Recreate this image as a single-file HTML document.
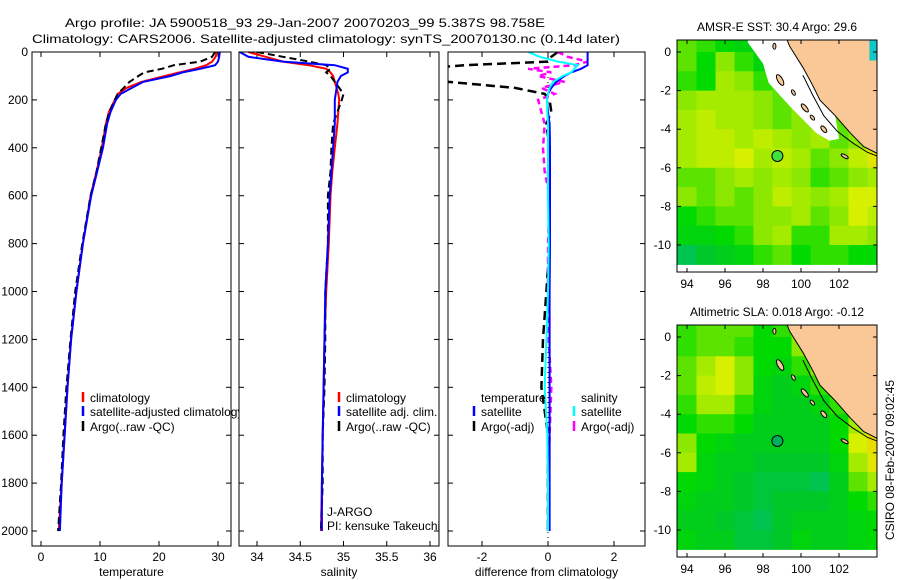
<!DOCTYPE html>
<html><head><meta charset="utf-8"><style>
html,body{margin:0;padding:0;background:#fff;}
svg{display:block;font-family:"Liberation Sans",sans-serif;}
text{font-size:12px;fill:#000;}
</style></head><body>
<svg id="fig" width="900" height="580" viewBox="0 0 900 580">
<text x="65" y="27" font-size="14" textLength="480" lengthAdjust="spacingAndGlyphs">Argo profile: JA 5900518_93 29-Jan-2007 20070203_99 5.387S 98.758E</text>
<text x="32" y="43" font-size="14" textLength="588" lengthAdjust="spacingAndGlyphs">Climatology: CARS2006. Satellite-adjusted climatology: synTS_20070130.nc (0.14d later)</text>
<g id="panels"></g>
<text transform="translate(894,460) rotate(-90)" text-anchor="middle">CSIRO 08-Feb-2007 09:02:45</text>
</svg>
<script>
const depths=[0,20,40,55,70,85,100,125,150,175,200,250,300,400,500,600,800,1000,1200,1400,1600,1800,2000];
const tempClim=[29.8,29.6,29,28,26,23.5,21,17,14.5,13,12.5,11.5,11,10.3,9.4,8.4,7.1,6,5.1,4.5,4,3.5,3.0];
const tempSat=[30.3,30.2,30,29.5,27,24,22,17.3,15.4,13.5,12.7,11.8,11.2,10.5,9.5,8.5,7.1,6,5.1,4.5,4,3.5,3.2];
const tempArgo=[29.5,29,27,22.5,20.5,17.5,16.5,15,14,13,12.5,11.6,11,10.2,9.4,8.4,7.0,5.8,5,4.3,3.8,3.4,2.9];
const salClim=[33.9,34.1,34.3,34.6,34.8,34.85,34.88,34.9,34.92,34.94,34.95,34.94,34.93,34.9,34.87,34.85,34.83,34.8,34.78,34.77,34.76,34.75,34.74];
const salSat=[33.8,33.9,34.3,34.9,35.05,35.05,34.97,34.93,34.92,34.91,34.9,34.9,34.9,34.88,34.86,34.84,34.82,34.79,34.78,34.77,34.76,34.75,34.75];
const salArgo=[34.0,34.3,34.6,34.8,34.85,34.8,34.85,34.9,34.95,35.0,34.98,34.93,34.88,34.86,34.85,34.82,34.82,34.79,34.79,34.78,34.76,34.76,34.74];
const diffTempSat=[1.2,1.2,1.2,1.2,1.0,0.7,0.5,0.25,0.1,0.0,-0.03,0.0,0.05,0.06,0.06,0.06,0.06,0.05,0.05,0.05,0.05,0.05,0.05];
const diffTempArgo=[0.3,0.1,0,-2.5,-4,-4,-4,-3,-1,-0.1,0.05,0.1,-0.05,0.05,0.0,0.05,0.05,-0.05,-0.15,-0.2,0.0,0,0];
const diffSalSat=[-0.6,-0.25,0.3,0.9,0.8,0.7,0.45,0.15,0.05,0,-0.03,-0.02,0,0,0,0,0.02,0,-0.05,-0.1,-0.02,0,0];
const diffSalArgo=[0.3,0.6,1.2,0.8,-0.6,0.1,-0.3,0.5,-0.2,0.2,-0.3,-0.2,-0.1,-0.15,-0.1,0.05,0,0,0.02,0.1,0.05,0.02,0];
const depthTicks=[0,200,400,600,800,1000,1200,1400,1600,1800,2000];
const tempTicks=[0,10,20,30];
const salTicks=["34","34.5","35","35.5","36"];
const diffTicks=[-2,0,2];
const lonTicks=[94,96,98,100,102];
const latTicks=[0,-2,-4,-6,-8,-10];
const sstGrid=[
[.5,.45,.4,.35,.3,.35,.45,.5,.5,.5,.5],
[.5,.4,.55,.45,.35,.4,.5,.5,.5,.5,.5],
[.45,.4,.6,.55,.45,.5,.55,.55,.5,.5,.5],
[.55,.6,.6,.6,.55,.5,.6,.55,.5,.5,.5],
[.6,.65,.6,.6,.55,.5,.55,.5,.5,.45,.5],
[.6,.65,.65,.6,.65,.6,.55,.6,.5,.55,.5],
[.6,.65,.65,.7,.6,.65,.6,.5,.55,.65,.75],
[.5,.5,.55,.6,.55,.6,.55,.45,.5,.55,.6],
[.55,.5,.55,.5,.55,.65,.6,.55,.6,.7,.7],
[.4,.45,.5,.5,.55,.55,.6,.5,.55,.7,.65],
[.35,.35,.4,.45,.55,.6,.45,.45,.6,.6,.55],
[.15,.25,.3,.35,.45,.5,.4,.45,.45,.4,.4]];
const slaGrid=[
[.45,.5,.5,.5,.4,.45,.6,.65,.6,.6,.6],
[.45,.5,.5,.45,.4,.4,.55,.65,.6,.6,.6],
[.5,.6,.7,.55,.4,.35,.45,.55,.6,.6,.6],
[.5,.65,.7,.55,.35,.3,.35,.45,.55,.55,.55],
[.45,.6,.6,.45,.35,.3,.3,.35,.45,.5,.6],
[.4,.45,.45,.4,.3,.3,.3,.3,.4,.6,.7],
[.55,.4,.35,.3,.3,.3,.3,.3,.4,.7,.8],
[.6,.35,.3,.3,.25,.25,.25,.25,.35,.6,.75],
[.4,.35,.3,.25,.2,.2,.2,.15,.3,.5,.6],
[.35,.3,.3,.25,.2,.25,.25,.25,.3,.4,.45],
[.3,.3,.25,.2,.15,.25,.3,.3,.3,.35,.4],
[.35,.3,.3,.2,.2,.25,.35,.3,.3,.35,.4]];
const argoLon=98.758, argoLat=-5.387;

const NS='http://www.w3.org/2000/svg';
const root=document.getElementById('panels');
function mk(tag,attrs,parent){const e=document.createElementNS(NS,tag);for(const k in attrs)e.setAttribute(k,attrs[k]);(parent||root).appendChild(e);return e;}
function txt(x,y,s,anchor,parent){const t=mk('text',{x:x,y:y,'text-anchor':anchor||'start'},parent);t.textContent=s;return t;}

const pTop=52,pBot=546;
const yD=d=>52+d*0.2395;
let clipId=0;
function panel(name,x0,x1,xs,ticks,tickLabels,xlabel,showY){
  const g=mk('g',{});
  
  
  mk('rect',{x:x0,y:pTop,width:x1-x0,height:pBot-pTop,fill:'#fff',stroke:'none'},g);
  const id='c'+(clipId++);
  const cp=mk('clipPath',{id:id},g);mk('rect',{x:x0,y:pTop,width:x1-x0,height:pBot-pTop},cp);
  ticks.forEach((v,i)=>{const x=xs(v);
    mk('line',{x1:x,y1:pTop,x2:x,y2:pTop+5,stroke:'#000'},g);
    mk('line',{x1:x,y1:pBot,x2:x,y2:pBot-5,stroke:'#000'},g);
    const t=txt(x,561,tickLabels[i],'middle',g);
    
    });
  depthTicks.forEach(d=>{const y=yD(d);
    mk('line',{x1:x0,y1:y,x2:x0+5,y2:y,stroke:'#000'},g);
    mk('line',{x1:x1,y1:y,x2:x1-5,y2:y,stroke:'#000'},g);
    if(showY){const t=txt(x0-4,y+4,String(d),'end',g);
      
      }});
  const xl=txt((x0+x1)/2,576,xlabel,'middle',g);
  
  
  const inner=mk('g',{'clip-path':'url(#'+id+')'},g);
  return {g:g,inner:inner,x0:x0,x1:x1};
}
function series(p,vals,xs,color,dash,w,name){
  const pts=vals.map((v,i)=>xs(v).toFixed(1)+','+yD(depths[i]).toFixed(1)).join(' ');
  const l=mk('polyline',{points:pts,fill:'none',stroke:color,'stroke-width':w||2,'stroke-dasharray':dash||'none'},p.inner);
  
  
}
function border(p){mk('rect',{x:p.x0,y:pTop,width:p.x1-p.x0,height:pBot-pTop,fill:'none',stroke:'#000'},p.g);}
function legend(p,x,y,color,label,name){
  const g=mk('g',{},p.g);
  
  
  if(color)mk('line',{x1:x,y1:y-10,x2:x,y2:y,stroke:color,'stroke-width':2.5},g);
  txt(x+(color?7:0),y,label,'start',g);
}

const xT=v=>41+v*5.9;
const pT=panel('temperature-panel',32,231,xT,tempTicks,tempTicks.map(String),'temperature',true);
series(pT,tempClim,xT,'#f00',null,2,'temp-climatology-line');
series(pT,tempArgo,xT,'#000','7,4',2,'temp-argo-line');
series(pT,tempSat,xT,'#00f',null,2,'temp-satellite-line');
border(pT);
legend(pT,83,402,'#f00','climatology','legend-climatology');
legend(pT,83,416,'#00f','satellite-adjusted climatology','legend-satellite-adjusted');
legend(pT,83,431,'#000','Argo(..raw -QC)','legend-argo');

const xS=v=>257+(v-34)*86.5;
const pS=panel('salinity-panel',239,439,xS,salTicks.map(Number),salTicks,'salinity',false);
series(pS,salClim,xS,'#f00',null,2,'sal-climatology-line');
series(pS,salArgo,xS,'#000','7,4',2,'sal-argo-line');
series(pS,salSat,xS,'#00f',null,2,'sal-satellite-line');
border(pS);
legend(pS,339,402,'#f00','climatology','legend-sal-climatology');
legend(pS,339,416,'#00f','satellite adj. clim.','legend-sal-satellite');
legend(pS,339,431,'#000','Argo(..raw -QC)','legend-sal-argo');
legend(pS,327,516,null,'J-ARGO','j-argo-label');
legend(pS,327,530,null,'PI: kensuke Takeuchi','pi-label');

const xDf=v=>548+v*33;
const pD=panel('difference-panel',448,645,xDf,diffTicks,diffTicks.map(String),'difference from climatology',false);
mk('line',{x1:548,y1:pTop,x2:548,y2:pBot,stroke:'#000','stroke-dasharray':'1,4'},pD.inner);
series(pD,diffTempArgo,xDf,'#000','9,5',2.5,'diff-temp-argo-line');
series(pD,diffSalArgo,xDf,'#f0f','6,4',2.5,'diff-sal-argo-line');
series(pD,diffTempSat,xDf,'#00f',null,2,'diff-temp-satellite-line');
series(pD,diffSalSat,xDf,'#0ff',null,2,'diff-sal-satellite-line');
border(pD);
legend(pD,481,402,null,'temperature','legend-temperature-header');
legend(pD,474,416,'#00f','satellite','legend-diff-temp-satellite');
legend(pD,474,431,'#000','Argo(-adj)','legend-diff-temp-argo');
legend(pD,581,402,null,'salinity','legend-salinity-header');
legend(pD,574,416,'#0ff','satellite','legend-diff-sal-satellite');
legend(pD,574,431,'#f0f','Argo(-adj)','legend-diff-sal-argo');

const stops=[[0,[0,190,140]],[0.25,[0,200,40]],[0.4,[0,218,0]],[0.55,[140,232,0]],[0.7,[215,240,0]],[0.85,[245,210,0]],[1,[245,150,0]]];
function cmap(v){for(let i=1;i<stops.length;i++){if(v<=stops[i][0]){const a=stops[i-1],b=stops[i],t=(v-a[0])/(b[0]-a[0]);return 'rgb('+a[1].map((c,k)=>Math.round(c+(b[1][k]-c)*t)).join(',')+')';}}return 'rgb(245,150,0)';}
function map(name,y0,grid,title,whiteStrip,cyan,circleFill){
  const x0=677,x1=877,y1=y0+232;
  const mx=lon=>687+(lon-94)*19.0;
  const my=lat=>(y0+12)+(-lat)*19.3;
  const g=mk('g',{});
  
  
  const id='m'+(clipId++);
  const cp=mk('clipPath',{id:id},g);mk('rect',{x:x0,y:y0,width:x1-x0,height:y1-y0},cp);
  const inner=mk('g',{'clip-path':'url(#'+id+')'},g);
  grid.forEach((row,r)=>row.forEach((v,c)=>{
    const lon=93.5+c, lat=0.5-r;
    const cell=mk('rect',{x:mx(lon).toFixed(1),y:my(lat+0.5).toFixed(1),width:19.6,height:19.9,fill:v==null?'#fff':cmap(v)},inner);
    
    
  }));
  const coast=[[99.2,0.8],[99.4,0.3],[100.1,-0.8],[100.6,-1.7],[101,-2.5],[101.8,-3.3],[102.6,-4.2],[103.3,-4.9],[104.1,-5.3],[104.4,-5.4]];
  if(whiteStrip){const ws=[[97.2,0.8],[97.2,0.5],[98,-0.6],[98.3,-1.6],[99.4,-2.8],[100.1,-3.5],[100.8,-4.2],[101.5,-4.6],[102.0,-4.5]].concat(coast.slice(0,6).reverse());
    const w=mk('polygon',{points:ws.map(p=>mx(p[0])+','+my(p[1])).join(' '),fill:'#fff'},inner);
    
    }
  const land=coast.concat([[104.4,0.8]]);
  const ld=mk('polygon',{points:land.map(p=>mx(p[0])+','+my(p[1])).join(' '),fill:'#f9c896',stroke:'#000','stroke-width':1},inner);
  
  
  const shelf=[[100.1,-1.2],[100.6,-2.2],[101.2,-3.3],[101.9,-4.1],[102.7,-4.7],[103.5,-5.2],[104.3,-5.5]];
  mk('polyline',{points:shelf.map(p=>mx(p[0])+','+my(p[1])).join(' '),fill:'none',stroke:'#000','stroke-width':1},inner);
  if(cyan)mk('rect',{x:mx(103.6),y:my(0.7),width:20,height:22,fill:'#10c8c8'},inner);
  [[98.9,-1.45,2.5,6,-30],[99.6,-2.1,1.5,3,-30],[100.2,-2.9,2,5,-40],[100.6,-3.4,1.5,3,-40],[101.2,-4.0,2,4,-40],[102.3,-5.4,4,1.5,30],[98.6,0.3,1.5,3,0]].forEach(e=>{
    const el=mk('ellipse',{cx:mx(e[0]),cy:my(e[1]),rx:e[2],ry:e[3],transform:'rotate('+e[4]+' '+mx(e[0])+' '+my(e[1])+')',fill:'#f9c896',stroke:'#000'},inner);
    
    
  });
  const c=mk('circle',{cx:mx(argoLon),cy:my(argoLat),r:5.5,fill:circleFill,stroke:'#000'},inner);
  
  
  mk('rect',{x:x0,y:y0,width:x1-x0,height:y1-y0,fill:'none',stroke:'#000'},g);
  lonTicks.forEach(l=>{const x=mx(l);mk('line',{x1:x,y1:y1,x2:x,y2:y1-4,stroke:'#000'},g);mk('line',{x1:x,y1:y0,x2:x,y2:y0+4,stroke:'#000'},g);
    const t=txt(x,y1+16,String(l),'middle',g);
    
    });
  latTicks.forEach(l=>{const y=my(l);mk('line',{x1:x0,y1:y,x2:x0+4,y2:y,stroke:'#000'},g);mk('line',{x1:x1,y1:y,x2:x1-4,y2:y,stroke:'#000'},g);
    const t=txt(x0-6,y+4,String(l),'end',g);
    
    });
  const tt=txt(777,y0-9,title,'middle',g);
  
  
}
map('sst-map',40,sstGrid,'AMSR-E SST: 30.4  Argo: 29.6',true,true,'#40e040');
map('sla-map',325,slaGrid,'Altimetric SLA: 0.018  Argo: -0.12',false,false,'#00b060');
</script>
</body></html>
